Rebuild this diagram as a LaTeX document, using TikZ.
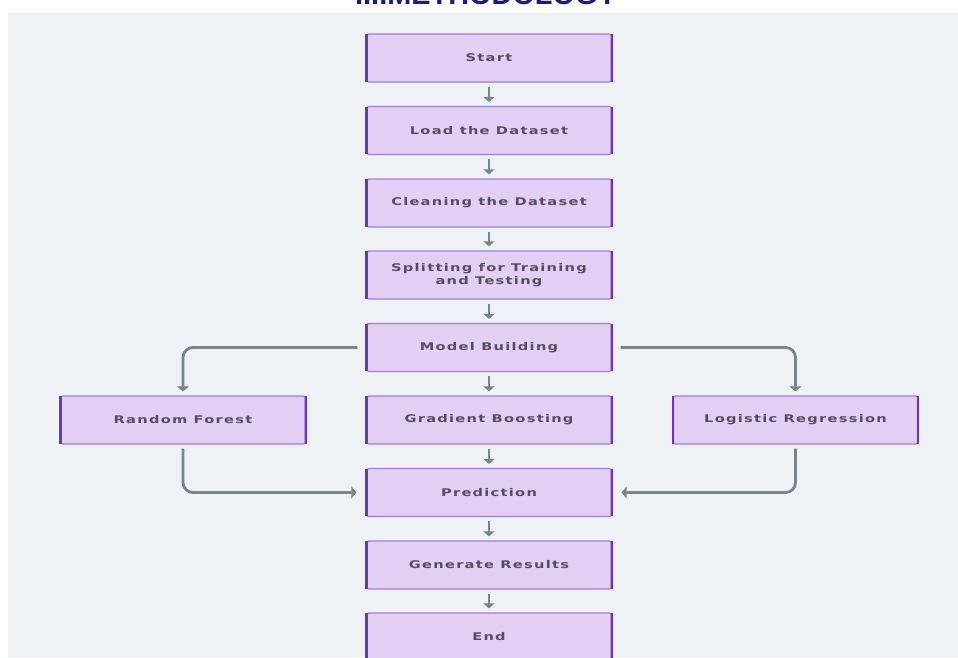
\documentclass[tikz,border=0pt]{standalone}
\usepackage{fontspec}
\usetikzlibrary{arrows.meta}
\newfontfamily\boxfont[FakeStretch=1.38,LetterSpace=12]{DejaVu Sans Bold}
\newfontfamily\titlefont{Liberation Sans}

\definecolor{panelbg}{HTML}{EEF2F5}
\definecolor{boxfill}{HTML}{E3CEF4}
\definecolor{boxedge}{HTML}{A07AE0}
\definecolor{boxside}{HTML}{6E33BC}
\definecolor{boxtext}{HTML}{554E5F}
\definecolor{linkgray}{HTML}{76868C}
\definecolor{titlenavy}{HTML}{1C1C7A}

\tikzset{
  stepbox/.style={draw=boxedge, fill=boxfill, line width=1.2pt,
    rounded corners=2pt, minimum width=244pt, minimum height=48pt,
    inner sep=0pt, align=center, text=boxtext,
    font=\boxfont\fontsize{10.6}{12.5}\selectfont},
  sideedge/.style={draw=boxside, line width=2.2pt},
  flow/.style={draw=linkgray, line width=2.4pt,
    -{Triangle[width=11pt,length=5pt]}, shorten <=4pt, shorten >=4pt},
  branch/.style={draw=linkgray, line width=2.8pt, rounded corners=10pt,
    -{Triangle[width=12pt,length=5pt]}}
}

\begin{document}
\begin{tikzpicture}[x=1pt,y=-1pt]
  \clip (0,0) rectangle (958,657);
  \fill[white] (0,0) rectangle (958,657);
  \fill[panelbg] (8,13) rectangle (958,657);

  % heading, partly above the page edge
  \node[anchor=base, text=titlenavy, inner sep=0pt,
        font=\titlefont\bfseries\fontsize{28.9}{30}\selectfont]
        (title) at (486,4.5) {III.METHODOLOGY};

  % process steps
  \node[stepbox] (start) at (489,58)    {Start};
  \node[stepbox] (load)  at (489,130.5) {Load the Dataset};
  \node[stepbox] (clean) at (489,203)   {Cleaning the Dataset};
  \node[stepbox] (split) at (489,275)   {Splitting for Training\\and Testing};
  \node[stepbox] (model) at (489,347.5) {Model Building};
  \node[stepbox] (rf)    at (183,420)   {Random Forest};
  \node[stepbox] (gb)    at (489,420)   {Gradient Boosting};
  \node[stepbox] (lr)    at (795.5,420) {Logistic Regression};
  \node[stepbox] (pred)  at (489,492.5) {Prediction};
  \node[stepbox] (gen)   at (489,565)   {Generate Results};
  \node[stepbox] (end)   at (489,637)   {End};

  % darker left and right edges of each box
  \foreach \n in {start,load,clean,split,model,rf,gb,lr,pred,gen,end}{
    \draw[sideedge] ([yshift=-1pt]\n.north west) -- ([yshift=1pt]\n.south west);
    \draw[sideedge] ([yshift=-1pt]\n.north east) -- ([yshift=1pt]\n.south east);
  }

  % main sequence
  \draw[flow] (start) -- (load);
  \draw[flow] (load)  -- (clean);
  \draw[flow] (clean) -- (split);
  \draw[flow] (split) -- (model);
  \draw[flow] (model) -- (gb);
  \draw[flow] (gb)    -- (pred);
  \draw[flow] (pred)  -- (gen);
  \draw[flow] (gen)   -- (end);

  % branches to the side models and back
  \draw[branch, shorten <=9pt, shorten >=4pt] (model.west) -| (rf.north);
  \draw[branch, shorten <=9pt, shorten >=4pt] (model.east) -| (lr.north);
  \draw[branch, shorten <=4pt, shorten >=10pt] (rf.south) |- (pred.west);
  \draw[branch, shorten <=4pt, shorten >=10pt] (lr.south) |- (pred.east);
\end{tikzpicture}
\end{document}
